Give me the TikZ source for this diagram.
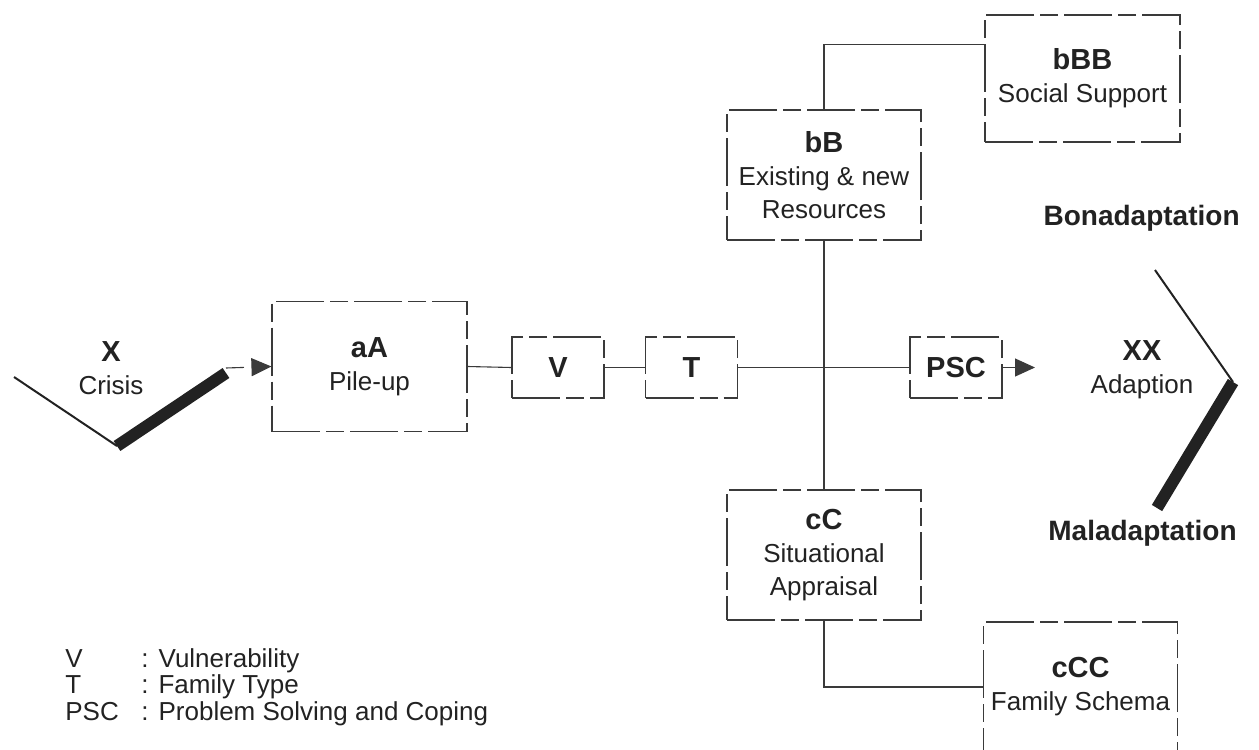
\documentclass[tikz,border=0pt]{standalone}
\usepackage{fontspec}
\setmainfont{Liberation Sans}
\usetikzlibrary{arrows.meta,calc}
\definecolor{ink}{HTML}{222222}
\definecolor{linec}{HTML}{3A3A3A}
\tikzset{
  box/.style={draw=linec, line width=0.55pt, dash pattern=on 24pt off 3pt on 9pt off 3pt,
    align=center, text=ink, inner sep=0pt, font=\fontsize{13}{16.5}\selectfont},
  bigbox/.style={box, minimum width=97.5pt, minimum height=65pt},
  smallbox/.style={box, minimum width=46pt, minimum height=30.5pt},
  conn/.style={draw=linec, line width=0.55pt},
  lbl/.style={text=ink, align=center, inner sep=0pt, font=\fontsize{13}{16.5}\selectfont},
  hd/.style={font=\fontsize{14}{16.5}\selectfont\bfseries},
  thin/.style={draw=ink, line width=1pt},
  thick/.style={draw=ink, line width=6pt},
  tip/.style={-{Triangle[length=10pt,width=9pt]}}
}
\newcommand{\hb}[1]{{\fontsize{14.5}{16}\selectfont\bfseries #1}}
\begin{document}
\begin{tikzpicture}[x=0.5pt,y=-0.5pt]
\useasboundingbox (0,0) rectangle (1259,750);
\clip (0,0) rectangle (1259,750);

% boxes
\node[bigbox] (aA) at (369.5,366.5) {\hb{aA}\\Pile-up};
\node[smallbox] (V) at (558,367.5) {\hb{V}};
\node[smallbox] (T) at (691.5,367.5) {\hb{T}};
\node[smallbox] (PSC) at (956,367.5) {\hb{PSC}};
\node[bigbox, minimum width=97pt] (bB) at (824,175) {\hb{bB}\\Existing \& new\\Resources};
\node[bigbox, minimum height=63.5pt] (bBB) at (1082.5,78.5) {\hb{bBB}\\Social Support};
\node[bigbox, minimum width=97pt] (cC) at (824,555) {\hb{cC}\\Situational\\Appraisal};
\node[bigbox, minimum width=97pt] (cCC) at (1080.5,687) {\hb{cCC}\\Family Schema};

% crisis chevron
\node[lbl] (X) at (111,368) {\hb{X}\\Crisis};
\coordinate (cl) at (14,377);
\coordinate (cb) at (117,446);
\coordinate (cr) at (226,373);
\draw[thin] (cl) -- (cb);
\draw[thick] (cb) -- (cr);
\coordinate (cs) at (226,368);
\draw[conn, dash pattern=on 9pt off 4pt, tip] (cs) -- (aA.west);

% adaption chevron
\node[lbl] (XX) at (1142,370) {\hb{XX}\\Adaption};
\coordinate (at) at (1155,270);
\coordinate (ap) at (1233,382);
\coordinate (ab) at (1157,508);
\draw[thin] (at) -- (ap);
\draw[thick] (ap) -- (ab);
\coordinate (xin) at (1035,367.5);
\draw[conn, tip] (PSC.east) -- (xin);

\node[lbl, hd, anchor=east] (bon) at (1240,218) {Bonadaptation};
\node[lbl, hd, anchor=east] (mal) at (1237,533) {Maladaptation};

% connectors
\draw[conn] (aA.east) -- (V.west);
\draw[conn] (V.east) -- (T.west);
\draw[conn] (T.east) -- (PSC.west);
\draw[conn] (bB.south) -- (cC.north);
\draw[conn] (bB.north) |- ([yshift=-15pt]bBB.north west);
\draw[conn] (cC.south) |- (cCC.west);

% legend
\node[lbl, anchor=west, align=left] (leg) at (65,688) {\fontsize{13}{12.75}\selectfont
\begin{tabular}{@{}p{38pt}@{}l@{\hspace{5pt}}l@{}}
V & : & Vulnerability\\
T & : & Family Type\\
PSC & : & Problem Solving and Coping
\end{tabular}};
\end{tikzpicture}
\end{document}
